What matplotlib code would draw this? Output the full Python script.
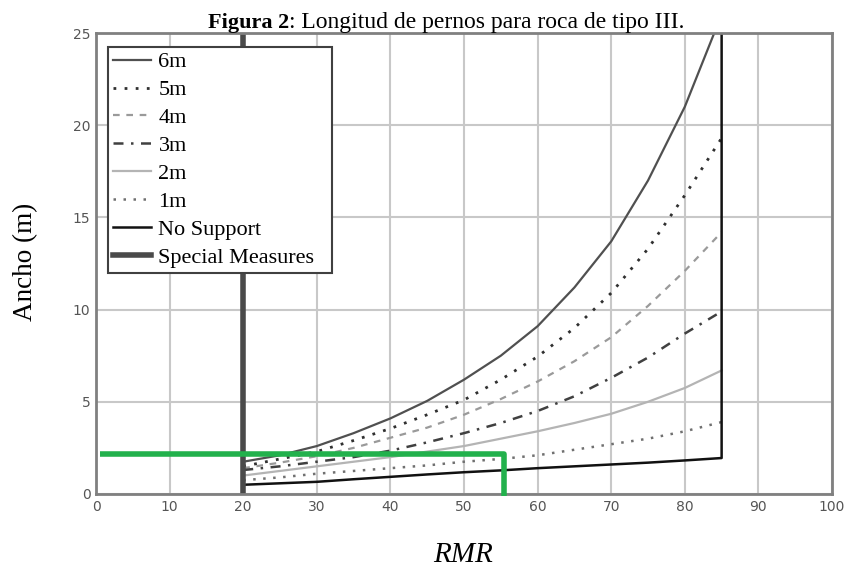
import numpy as np
import matplotlib
matplotlib.use("Agg")
import matplotlib.pyplot as plt

rmr = [20, 25, 30, 35, 40, 45, 50, 55, 60, 65, 70, 75, 80, 85]

w_6m = [1.75, 2.1, 2.6, 3.3, 4.1, 5.05, 6.2, 7.5, 9.1, 11.2, 13.7, 17.0, 21.0, 26.0]
w_5m = [1.5, 1.9, 2.3, 2.9, 3.55, 4.3, 5.1, 6.2, 7.45, 9.0, 10.9, 13.3, 16.2, 19.3]
w_4m = [1.4, 1.7, 2.05, 2.5, 3.05, 3.6, 4.3, 5.15, 6.1, 7.2, 8.5, 10.2, 12.1, 14.2]
w_3m = [1.3, 1.5, 1.75, 2.0, 2.35, 2.8, 3.3, 3.85, 4.5, 5.3, 6.3, 7.4, 8.7, 9.9]
w_2m = [1.0, 1.25, 1.5, 1.75, 2.0, 2.3, 2.6, 3.0, 3.4, 3.85, 4.35, 5.0, 5.75, 6.7]
w_1m = [0.75, 0.9, 1.1, 1.25, 1.4, 1.55, 1.75, 1.9, 2.1, 2.4, 2.7, 3.0, 3.4, 3.9]
w_nosup = [0.5, 0.58, 0.66, 0.8, 0.93, 1.06, 1.18, 1.28, 1.4, 1.5, 1.6, 1.7, 1.82, 1.95]

special_x = 20
nosup_top = 25
# green marker lines drawn on the figure
green_x = [0.5, 55.4, 55.4]
green_y = [2.17, 2.17, -0.12]

serif = "Liberation Serif"

fig = plt.figure(figsize=(8.49, 5.68), dpi=100)
ax = fig.add_axes([0.1131, 0.1303, 0.8669, 0.8116])

ax.plot(rmr, w_6m, color="#505050", lw=1.6, ls="-", label="6m")
ax.plot(rmr, w_5m, color="#303030", lw=2.0, ls=(0, (1, 3)), label="5m")
ax.plot(rmr, w_4m, color="#9a9a9a", lw=1.6, ls=(0, (3, 3)), label="4m")
ax.plot(rmr, w_3m, color="#404040", lw=1.8, ls=(0, (4, 3, 1, 3)), label="3m")
ax.plot(rmr, w_2m, color="#b4b4b4", lw=1.6, ls="-", label="2m")
ax.plot(rmr, w_1m, color="#707070", lw=1.8, ls=(0, (1, 3)), label="1m")
ax.plot(rmr + [rmr[-1]], w_nosup + [nosup_top], color="#111111", lw=1.8, label="No Support")
ax.plot([special_x, special_x], [0, 25], color="#4a4a4a", lw=4, label="Special Measures")

ax.plot(green_x, green_y, color="#22b14c", lw=4, solid_capstyle="butt", clip_on=False, zorder=5)

ax.set_xlim(0, 100)
ax.set_ylim(0, 25)
ax.set_xticks(np.arange(0, 101, 10))
ax.set_yticks(np.arange(0, 26, 5))
ax.grid(True, color="#c8c8c8", lw=1.5)
ax.set_axisbelow(True)
for s in ax.spines.values():
    s.set_color("#808080")
    s.set_linewidth(2)
ax.tick_params(length=0, pad=4, labelsize=10, labelcolor="#555555")

leg = ax.legend(loc="upper left", bbox_to_anchor=(0.0163, 0.9696 - 0.527, 0.3043, 0.527),
                mode="expand", prop={"family": serif, "size": 16},
                frameon=True, fancybox=False, edgecolor="#404040", framealpha=1,
                handlelength=1.7, handletextpad=0.35, labelspacing=0.33, borderpad=0.22,
                borderaxespad=0)
leg.get_frame().set_linewidth(1.5)

# title: bold part then normal part right after it, sitting just above the axes
t1 = fig.text(208 / 849, 1 - 28 / 568, "Figura 2", family=serif, weight="bold", size=16,
              va="baseline", ha="left", zorder=10)
fig.canvas.draw()
bb = t1.get_window_extent()
fig.text(bb.x1 / fig.bbox.width, 1 - 28 / 568, ": Longitud de pernos para roca de tipo III.",
         family=serif, size=17, va="baseline", ha="left", zorder=10)

fig.text(26 / 849, 1 - 262 / 568, "Ancho (m)", family=serif, size=19.5, rotation=90,
         va="center", ha="center")
fig.text(463 / 849, 1 - 555 / 568, "RMR", family=serif, style="italic", size=21,
         va="center", ha="center")

fig.savefig("out.png", dpi=100)
